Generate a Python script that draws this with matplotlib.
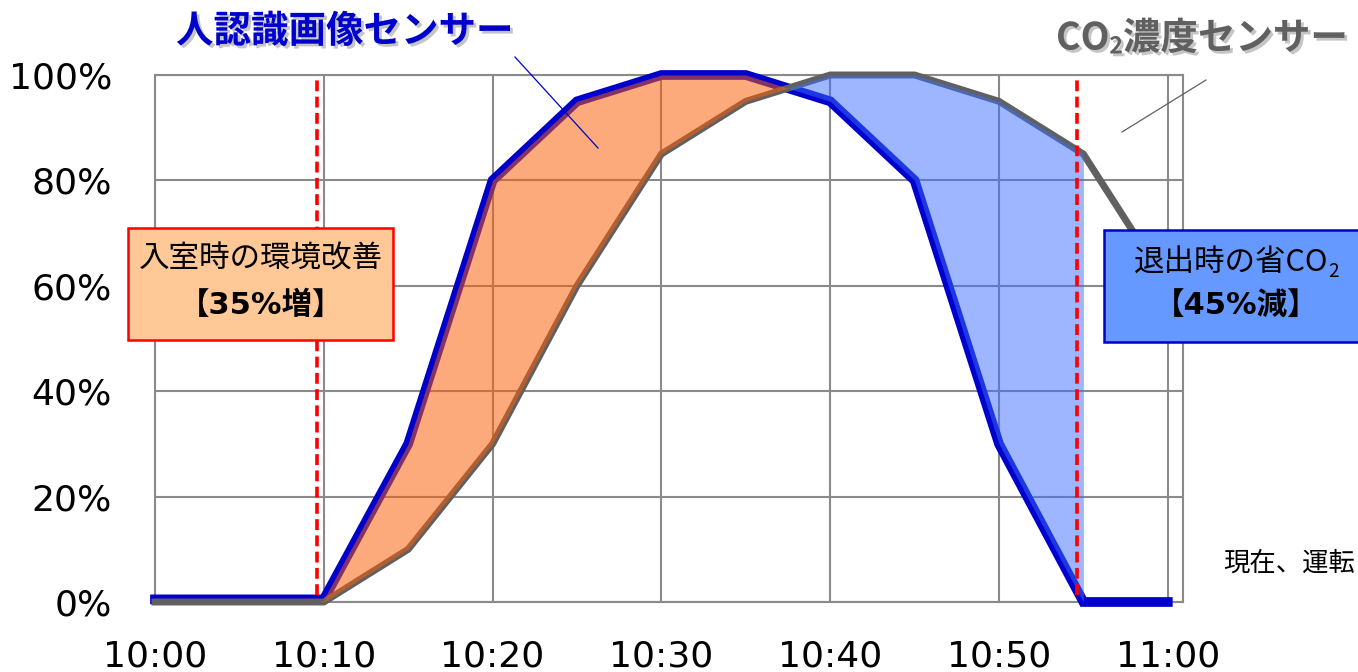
import numpy as np
import matplotlib
matplotlib.use("Agg")
import matplotlib.pyplot as plt
import matplotlib.patheffects as pe
from matplotlib.patches import Rectangle
from matplotlib.lines import Line2D

plt.rcParams['font.family'] = ['Noto Sans CJK JP', 'DejaVu Sans']

# 経過時間 (10:00 からの分)
minutes = [0, 5, 10, 15, 20, 25, 30, 35, 40, 45, 50, 55, 60]
# 人認識画像センサー
person = [0.005, 0.005, 0.005, 0.30, 0.80, 0.95, 1.00, 1.00, 0.95, 0.80, 0.30, 0.0, 0.0]
# CO2濃度センサー
co2 = [0.0, 0.0, 0.0, 0.10, 0.30, 0.60, 0.85, 0.95, 1.00, 1.00, 0.95, 0.85, 0.60]

xticks = [0, 10, 20, 30, 40, 50, 60]
xlabels = ['10:00', '10:10', '10:20', '10:30', '10:40', '10:50', '11:00']
yticks = [0, 0.2, 0.4, 0.6, 0.8, 1.0]
ylabels = ['0%', '20%', '40%', '60%', '80%', '100%']
enter_t = 10   # 入室
leave_t = 55   # 退出

W, H = 1358, 672


def fx(px):
    return px / W


def fy(py):
    return 1 - py / H


def sub_text(fig, x, y, main, sub, size, ha='left', **kw):
    # "CO" + 下付き "2" + 続き をピクセル単位で並べる
    r = fig.canvas.get_renderer()
    parts = [(main, size, 0), (sub[0], size * 0.62, 9)]
    if len(sub) > 1:
        parts.append((sub[1], size, 0))
    texts = []
    widths = []
    for s, fs, dy in parts:
        tx = fig.text(0, 0, s, fontsize=fs, va='center', ha='left', **kw)
        widths.append(tx.get_window_extent(r).width)
        texts.append((tx, dy))
    total = sum(widths)
    x0 = x - total / 2 if ha == 'center' else x
    for (tx, dy), w in zip(texts, widths):
        tx.set_position((fx(x0), fy(y + dy)))
        x0 += w


def main():
    t = np.array(minutes, dtype=float)
    p = np.array(person)
    c = np.array(co2)

    fig = plt.figure(figsize=(W / 100, H / 100), dpi=100)
    ax = fig.add_axes([fx(155), fy(602), fx(1183) - fx(155), fy(75) - fy(602)])

    ax.set_xlim(0, 60.9)
    ax.set_ylim(0, 1.0)
    ax.set_xticks(xticks)
    ax.set_xticklabels(xlabels, family='DejaVu Sans', fontsize=26)
    ax.set_yticks(yticks)
    ax.set_yticklabels(ylabels, family='DejaVu Sans', fontsize=26)
    ax.tick_params(length=0)
    ax.tick_params(axis='x', pad=27)
    ax.tick_params(axis='y', pad=31)
    ax.grid(True, color='#8a8a8a', lw=1.5)
    ax.set_axisbelow(True)
    for s in ax.spines.values():
        s.set_color('#8a8a8a')
        s.set_linewidth(1.5)

    # 線
    ax.plot(t, p, color='#0000cc', lw=7, solid_joinstyle='miter', zorder=3, clip_on=False)
    ax.plot(t, c, color='#606060', lw=5, solid_joinstyle='miter', zorder=4, clip_on=False)

    # 差分の塗り (線の上に半透明で重ねる)
    m1 = t >= enter_t
    ax.fill_between(t[m1], p[m1], c[m1], where=p[m1] >= c[m1], interpolate=True,
                    color='#fa5e08', alpha=0.53, lw=0, zorder=5)
    m2 = t <= leave_t
    ax.fill_between(t[m2], p[m2], c[m2], where=c[m2] >= p[m2], interpolate=True,
                    color='#3c6eff', alpha=0.5, lw=0, zorder=5)

    # 入室・退出
    for tt in [enter_t, leave_t]:
        ax.axvline(tt - 0.4, ymin=0.013, ymax=0.99, color='#ff0000', lw=2.6,
                   linestyle=(0, (3, 1.5)), zorder=6)

    # 注釈ボックス
    bold_fam = ['DejaVu Sans', 'Noto Sans CJK JP']
    fig.patches.append(Rectangle((fx(128), fy(340)), fx(393) - fx(128), fy(228) - fy(340),
                                 transform=fig.transFigure, facecolor='#ffc896',
                                 edgecolor='#ff0000', lw=1.8, zorder=10))
    fig.text(fx(261), fy(259), '入室時の環境改善', fontsize=22, ha='center', va='center', zorder=11)
    fig.text(fx(261), fy(305), '【35%増】', fontsize=22, fontweight='bold', family=bold_fam,
             ha='center', va='center', zorder=11)

    fig.patches.append(Rectangle((fx(1104), fy(342)), fx(1370) - fx(1104), fy(230) - fy(342),
                                 transform=fig.transFigure, facecolor='#6699ff',
                                 edgecolor='#0000cc', lw=1.8, zorder=10))
    sub_text(fig, 1236, 263, '退出時の省CO', ['2'], 22, ha='center', zorder=11)
    fig.text(fx(1236), fy(305), '【45%減】', fontsize=22, fontweight='bold', family=bold_fam,
             ha='center', va='center', zorder=11)

    # タイトル
    shadow = [pe.withSimplePatchShadow(offset=(2, -2), shadow_rgbFace='0.55', alpha=0.5)]
    fig.text(fx(176), fy(31), '人認識画像センサー', fontsize=27, fontweight='bold',
             color='#0000cc', ha='left', va='center', path_effects=shadow)
    sub_text(fig, 1056, 38, 'CO', ['2', '濃度センサー'], 27, fontweight='bold',
             color='#606060', path_effects=shadow)

    fig.lines.append(Line2D([fx(515), fx(598)], [fy(57), fy(148)], transform=fig.transFigure,
                            color='#0000cc', lw=0.9))
    fig.lines.append(Line2D([fx(1206), fx(1122)], [fy(80), fy(132)], transform=fig.transFigure,
                            color='#606060', lw=0.9))

    fig.text(fx(1355), fy(563), '現在、運転', fontsize=19, ha='right', va='center')

    fig.savefig('out.png', dpi=100)


if __name__ == '__main__':
    main()
